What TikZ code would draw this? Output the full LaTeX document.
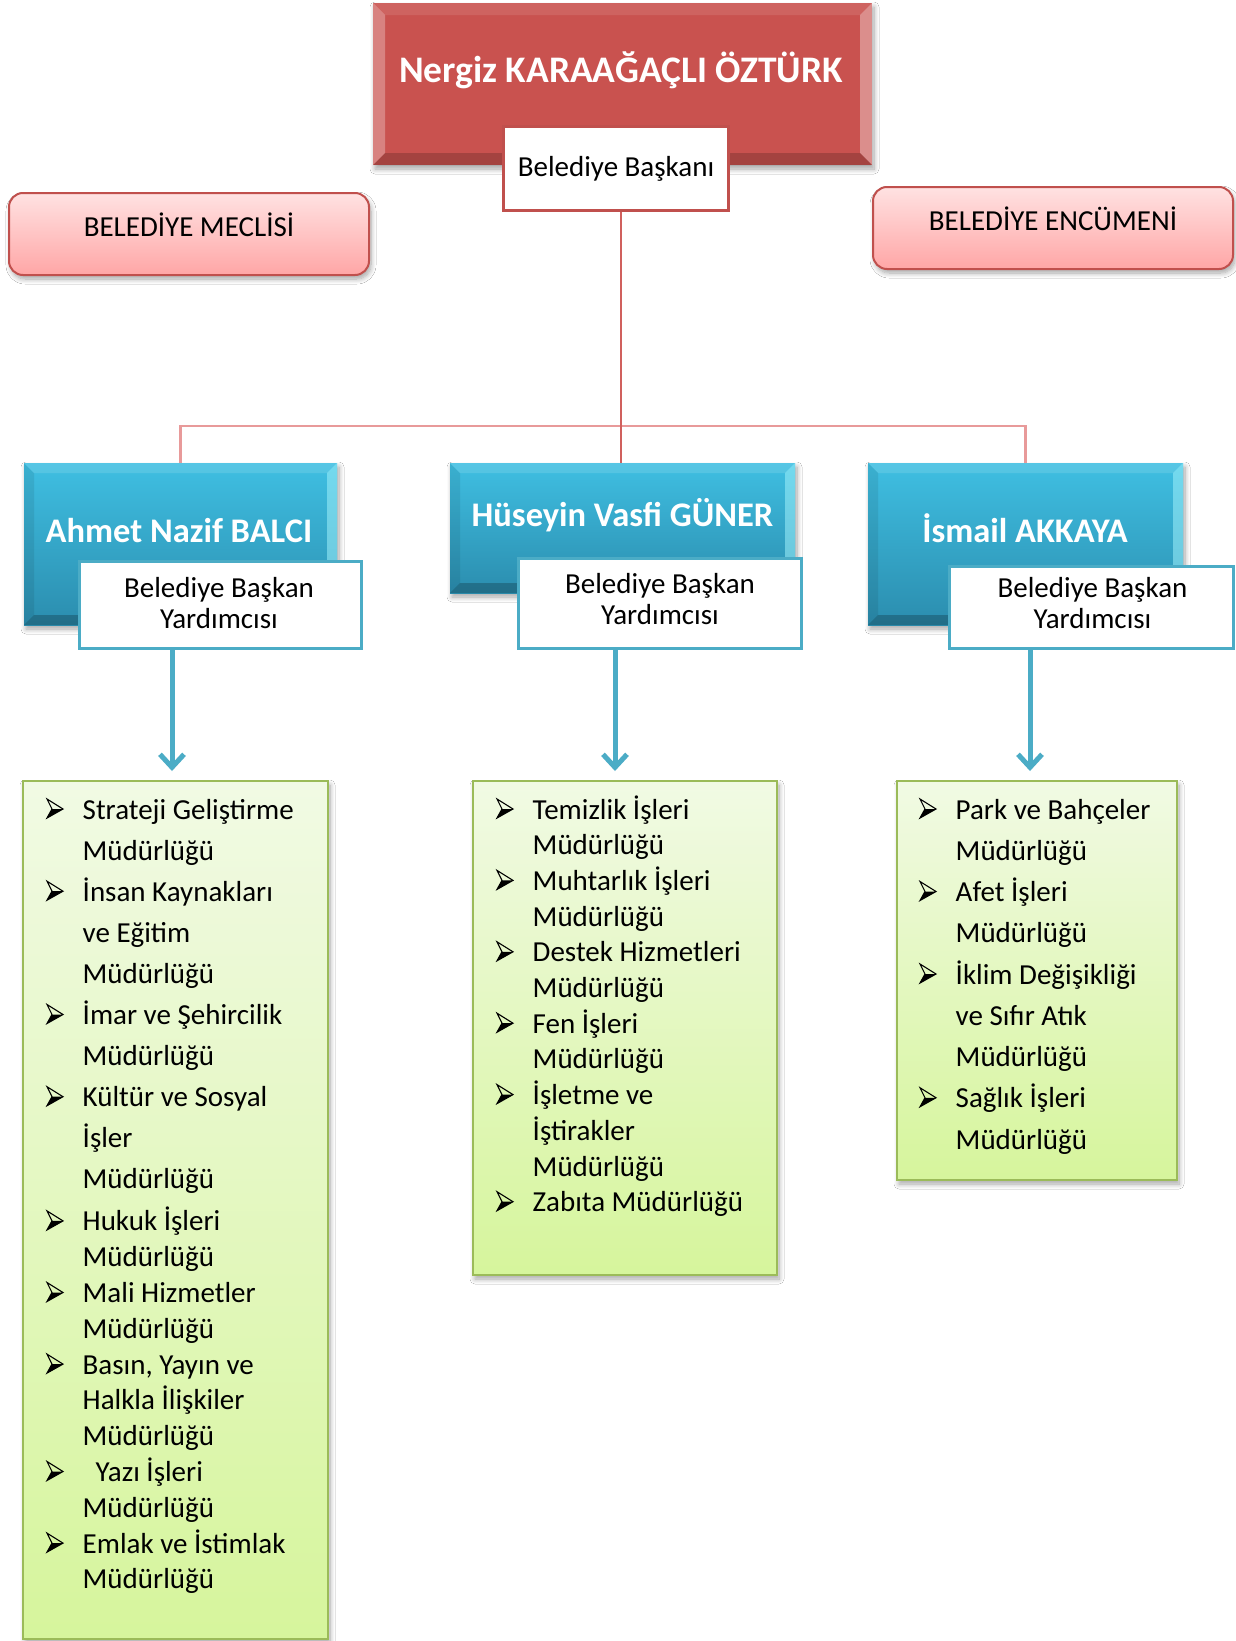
\documentclass[tikz,border=0pt]{standalone}
\usepackage{fontspec}
\setmainfont{Carlito}
\usetikzlibrary{calc,arrows.meta,shadows.blur}
\definecolor{hred}{HTML}{C9524F}
\definecolor{hredborder}{HTML}{C0504D}
\definecolor{pinktop}{HTML}{FFE2E2}
\definecolor{pinkbot}{HTML}{FFA6A6}
\definecolor{btop}{HTML}{3FBFE2}
\definecolor{bbot}{HTML}{2B8DAE}
\definecolor{bline}{HTML}{4BACC6}
\definecolor{gtop}{HTML}{F1FAE4}
\definecolor{gbot}{HTML}{D6F59C}
\definecolor{gline}{HTML}{9BBB59}
\definecolor{linkpink}{HTML}{E89A9A}
\definecolor{linkred}{HTML}{D0605D}
\definecolor{cyanhi}{HTML}{9FF0FA}
\newcommand\bul{\hspace*{35.5pt}}
\newcommand\mybevel[6]{%
 \fill[#3] (#1.north west) -- (#1.south west) -- ($(#1.south west)+(#2,-#2)$) -- ($(#1.north west)+(#2,#2)$) -- cycle;
 \fill[#4] (#1.north east) -- (#1.south east) -- ($(#1.south east)+(-#2,-#2)$) -- ($(#1.north east)+(-#2,#2)$) -- cycle;
 \fill[#5] (#1.north west) -- (#1.north east) -- ($(#1.north east)+(-#2,#2)$) -- ($(#1.north west)+(#2,#2)$) -- cycle;
 \fill[#6] (#1.south west) -- (#1.south east) -- ($(#1.south east)+(-#2,-#2)$) -- ($(#1.south west)+(#2,-#2)$) -- cycle;
}
\begin{document}
\begin{tikzpicture}[x=1pt,y=-1pt,
 softshadow/.style={blur shadow={shadow xshift=2pt,shadow yshift=-4pt,shadow blur radius=5pt,shadow opacity=35,shadow blur steps=8}},
 headbox/.style={rectangle, fill=hred, draw=none, outer sep=0pt, inner sep=0pt, softshadow},
 subbox/.style={rectangle, fill=white, line width=3pt, inner sep=0pt, font=\fontsize{29}{31}\selectfont},
 pinkbox/.style={rectangle, rounded corners=14pt, top color=pinktop, bottom color=pinkbot, draw=hredborder, line width=2pt, softshadow, minimum width=360pt, minimum height=82pt, inner sep=0pt, text height=20pt, text depth=16pt, font=\fontsize{29}{31}\selectfont},
 bluebox/.style={rectangle, top color=btop, bottom color=bbot, draw=none, outer sep=0pt, inner sep=0pt, softshadow},
 greenbox/.style={rectangle, top color=gtop, bottom color=gbot, draw=gline, line width=2.5pt, inner sep=0pt, softshadow},
 nametxt/.style={text=white, font=\bfseries\fontsize{34.5}{34.5}\selectfont, inner sep=0pt, anchor=base},
 subtxt/.style={inner sep=0pt, anchor=base, font=\fontsize{29}{31}\selectfont},
 listtxt/.style={inner sep=0pt, anchor=base west},
 link/.style={draw=linkpink, line width=2.5pt},
 linkc/.style={draw=linkred, line width=2.5pt},
 arr/.style={draw=bline, line width=5pt, -{Straight Barb[length=13pt,width=24pt]}},
 arrowbul/.pic={
   \fill[black] (5,0) -- (16,0) -- (0,9) -- cycle;
   \draw[black, line width=1.1pt, line join=miter] (0,-10) -- (16,0) -- (0,9) -- (5,0) -- cycle;
 }
]
\useasboundingbox (0,0) rectangle (1236,1641);
\fill[white] (0,0) rectangle (1236,1641);

% green boxes
\node[greenbox, minimum width=305pt, minimum height=858pt] (g1) at (175.5,1210) {};
\node[greenbox, minimum width=304pt, minimum height=494pt] (g2) at (625,1028) {};
\node[greenbox, minimum width=280pt, minimum height=399pt] (g3) at (1037,980.5) {};

% lists
\node[listtxt] (l1) at (47,819) {\fontsize{29}{41.1}\selectfont
\begin{tabular}[t]{@{}l@{}l@{}}
\bul & Strateji Geliştirme\\
 & Müdürlüğü\\
\bul & İnsan Kaynakları\\
 & ve Eğitim\\
 & Müdürlüğü\\
\bul & İmar ve Şehircilik\\
 & Müdürlüğü\\
\bul & Kültür ve Sosyal\\
 & İşler\\
 & Müdürlüğü\\[0.9pt]
\bul & Hukuk İşleri\\[-5.3pt]
 & Müdürlüğü\\[-5.3pt]
\bul & Mali Hizmetler\\[-5.3pt]
 & Müdürlüğü\\[-5.3pt]
\bul & Basın, Yayın ve\\[-5.3pt]
 & Halkla İlişkiler\\[-5.3pt]
 & Müdürlüğü\\[-5.3pt]
\bul & \hspace{13pt}Yazı İşleri\\[-5.3pt]
 & Müdürlüğü\\[-5.3pt]
\bul & Emlak ve İstimlak\\[-5.3pt]
 & Müdürlüğü
\end{tabular}};

\node[listtxt] (l2) at (497,819) {\fontsize{29}{35.7}\selectfont
\begin{tabular}[t]{@{}l@{}l@{}}
\bul & Temizlik İşleri\\
 & Müdürlüğü\\
\bul & Muhtarlık İşleri\\
 & Müdürlüğü\\
\bul & Destek Hizmetleri\\
 & Müdürlüğü\\
\bul & Fen İşleri\\
 & Müdürlüğü\\
\bul & İşletme ve\\
 & İştirakler\\
 & Müdürlüğü\\
\bul & Zabıta Müdürlüğü
\end{tabular}};

\node[listtxt] (l3) at (920,819) {\fontsize{29}{41.25}\selectfont
\begin{tabular}[t]{@{}l@{}l@{}}
\bul & Park ve Bahçeler\\
 & Müdürlüğü\\
\bul & Afet İşleri\\
 & Müdürlüğü\\
\bul & İklim Değişikliği\\
 & ve Sıfır Atık\\
 & Müdürlüğü\\
\bul & Sağlık İşleri\\
 & Müdürlüğü
\end{tabular}};

% bullets
\foreach \yy in {809,891.2,1014.5,1096.7,1220.9,1292.5,1364.1,1471.5,1543.1}
  \pic at (47,\yy) {arrowbul};
\foreach \yy in {809,880.4,951.8,1023.2,1094.6,1201.7}
  \pic at (497,\yy) {arrowbul};
\foreach \yy in {809,891.5,974,1097.75}
  \pic at (920,\yy) {arrowbul};

% council boxes
\node[pinkbox] (meclis) at (189,234) {BELEDİYE MECLİSİ};
\node[pinkbox] (encumen) at (1053,228) {BELEDİYE ENCÜMENİ};

% head
\node[headbox, minimum width=499pt, minimum height=162pt] (head) at (622.5,84) {};
\mybevel{head}{12}{white,opacity=.28}{white,opacity=.35}{white,opacity=.10}{black,opacity=.18}
\node[nametxt, font=\bfseries\fontsize{37.5}{37.5}\selectfont] (headt) at (621,82) {Nergiz KARAAĞAÇLI ÖZTÜRK};
\node[subbox, draw=hredborder, minimum width=225pt, minimum height=84pt] (headsub) at (616,168.5) {Belediye Başkanı};

% connectors
\coordinate (bar) at (621,426);
\node[bluebox, minimum width=313pt, minimum height=162pt] (b1) at (180.5,544) {};
\node[bluebox, minimum width=345pt, minimum height=130pt] (b2) at (622.5,528) {};
\node[bluebox, minimum width=315pt, minimum height=162pt] (b3) at (1025.5,544) {};
\draw[link] (b1.north) -- (b1.north |- bar) -- (b3.north |- bar) -- (b3.north);
\draw[linkc] (bar |- headsub.south) -- (bar |- b2.north);

% blue boxes bevels and text
\mybevel{b1}{10}{black,opacity=.08}{cyanhi,opacity=.55}{white,opacity=.12}{black,opacity=.22}
\mybevel{b2}{10}{black,opacity=.08}{cyanhi,opacity=.55}{white,opacity=.12}{black,opacity=.22}
\mybevel{b3}{10}{black,opacity=.08}{cyanhi,opacity=.55}{white,opacity=.12}{black,opacity=.22}
\node[nametxt] (b1t) at (179,542) {Ahmet Nazif BALCI};
\node[nametxt] (b2t) at (622.5,526) {Hüseyin Vasfi GÜNER};
\node[nametxt] (b3t) at (1025,542) {İsmail AKKAYA};

% sub boxes
\node[subbox, draw=bline, line width=3.5pt, minimum width=282pt, minimum height=87pt] (s1) at (220.5,605) {};
\node[subbox, draw=bline, line width=3.5pt, minimum width=283pt, minimum height=90pt] (s2) at (660,603.5) {};
\node[subbox, draw=bline, line width=3.5pt, minimum width=284pt, minimum height=82pt] (s3) at (1091.5,607.5) {};
\node[subtxt] (s1t) at (219,597) {\begin{tabular}[t]{@{}c@{}}Belediye Başkan\\ Yardımcısı\end{tabular}};
\node[subtxt] (s2t) at (660,593) {\begin{tabular}[t]{@{}c@{}}Belediye Başkan\\ Yardımcısı\end{tabular}};
\node[subtxt] (s3t) at (1092.5,597) {\begin{tabular}[t]{@{}c@{}}Belediye Başkan\\ Yardımcısı\end{tabular}};

% arrows
\coordinate (a1) at (172,771);
\coordinate (a2) at (615,771);
\coordinate (a3) at (1030,771);
\draw[arr] (s1.south -| a1) -- (a1);
\draw[arr] (s2.south -| a2) -- (a2);
\draw[arr] (s3.south -| a3) -- (a3);
\end{tikzpicture}
\end{document}
